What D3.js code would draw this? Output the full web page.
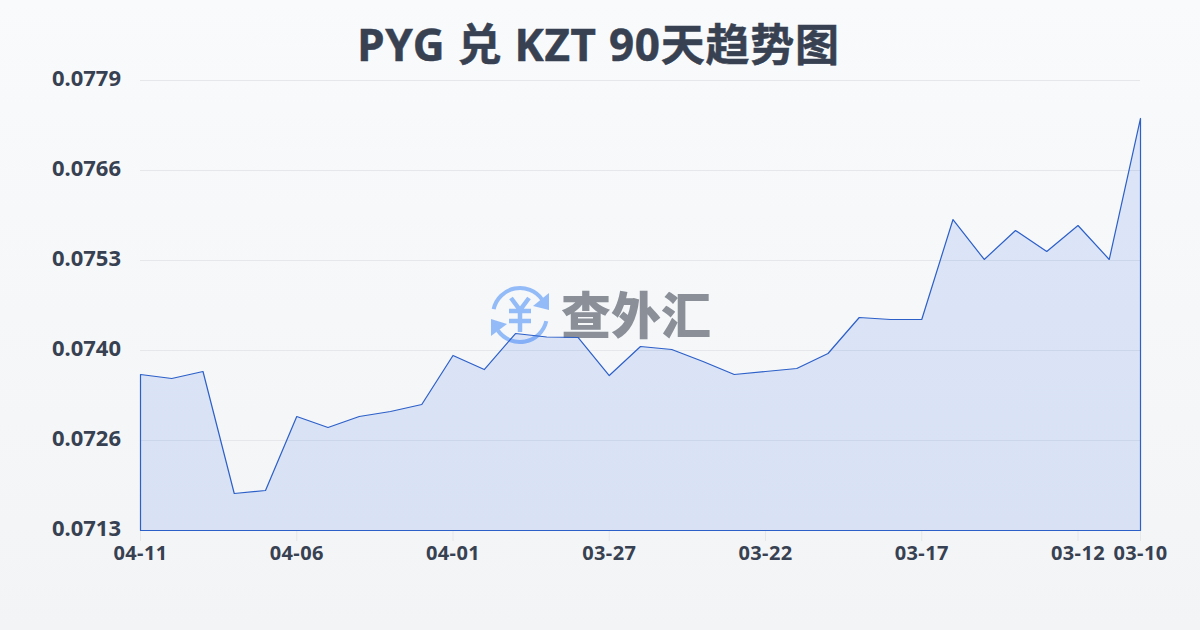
<!DOCTYPE html>
<html><head><meta charset="utf-8">
<script src="https://cdn.jsdelivr.net/npm/d3@7/dist/d3.min.js"></script>
<style>html,body{margin:0;padding:0;width:1200px;height:630px;overflow:hidden}svg{display:block}
text{font-family:"Noto Sans","Noto Sans CJK SC",sans-serif}</style></head><body>
<svg id="c" width="1200" height="630"></svg>
<script>
const titleText = "PYG 兑 KZT 90天趋势图";
const watermarkText = "查外汇";
const dates = ["04-11","04-10","04-09","04-08","04-07","04-06","04-05","04-04","04-03","04-02","04-01","03-31","03-30","03-29","03-28","03-27","03-26","03-25","03-24","03-23","03-22","03-21","03-20","03-19","03-18","03-17","03-16","03-15","03-14","03-13","03-12","03-11","03-10"];
const rates = [0.073588,0.073529,0.073632,0.071843,0.071887,0.072972,0.072811,0.072972,0.073045,0.073148,0.073867,0.073661,0.074189,0.074138,0.074131,0.073573,0.073999,0.073955,0.073779,0.073588,0.073632,0.073676,0.073896,0.074424,0.074395,0.074395,0.075861,0.075275,0.0757,0.075392,0.075773,0.075275,0.077343];
const xTickLabels = ["04-11","04-06","04-01","03-27","03-22","03-17","03-12","03-10"];
const yTickValues = [0.0713,0.0726,0.0740,0.0753,0.0766,0.0779];
const yDomain = [0.0713,0.0779];

const svg = d3.select("#c");
const defs = svg.append("defs");
const bg = defs.append("linearGradient").attr("id","bg").attr("x1",0).attr("y1",0).attr("x2",0).attr("y2",1);
bg.append("stop").attr("offset","0%").attr("stop-color","#f8fafc");
bg.append("stop").attr("offset","100%").attr("stop-color","#f3f4f6");
svg.append("rect").attr("width",1200).attr("height",630).attr("fill","url(#bg)");

const x = d3.scalePoint().domain(dates).range([140.5,1140.5]);
const y = d3.scaleLinear().domain(yDomain).range([530.5,80.5]);
const yPos = d3.scalePoint().domain(yTickValues).range([530,80]);

svg.append("g").selectAll("line").data(yTickValues.slice(1)).join("line")
  .attr("x1",140).attr("x2",1140).attr("y1",d=>yPos(d)+.5).attr("y2",d=>yPos(d)+.5)
  .attr("stroke","#e5e7eb").attr("stroke-width",1);

const wm = svg.append("g");
const arc = d3.arc();
const cx=520,cy=315, blue="#93bbf8";
wm.append("path").attr("transform",`translate(${cx},${cy})`)
  .attr("d",arc({innerRadius:25,outerRadius:29,startAngle:-1.35,endAngle:0.95})).attr("fill",blue);
wm.append("path").attr("transform",`translate(${cx},${cy})`)
  .attr("d",arc({innerRadius:25,outerRadius:29,startAngle:1.8,endAngle:4.1})).attr("fill",blue);
wm.append("path").attr("d",`M${cx+29},${cy-22}L${cx+29},${cy-5}L${cx+13},${cy-9}Z`).attr("fill",blue);
wm.append("path").attr("d",`M${cx-29},${cy+21}L${cx-29},${cy+4}L${cx-13},${cy+9}Z`).attr("fill",blue);
wm.append("path").attr("d",`M${cx-9},${cy-17}L${cx},${cy-5}L${cx+9},${cy-17}M${cx-11},${cy-4}H${cx+11}M${cx-11},${cy+6}H${cx+11}M${cx},${cy-5}V${cy+17}`)
  .attr("fill","none").attr("stroke",blue).attr("stroke-width",4.5);
wm.append("text").attr("x",636).attr("y",334).attr("text-anchor","middle")
  .attr("font-size",50).attr("font-weight",900).attr("fill","#8a8f98").text(watermarkText);

const area = d3.area().x((d,i)=>x(dates[i])).y0(530.5).y1(d=>y(d));
svg.append("path").datum(rates).attr("d",area).attr("fill","#2563eb").attr("fill-opacity",.13)
  .attr("stroke","#2c5fc8").attr("stroke-width",1.2).attr("stroke-linejoin","round");

const gx = svg.append("g").selectAll("g").data(xTickLabels).join("g");
gx.append("line").attr("x1",d=>x(d)).attr("x2",d=>x(d)).attr("y1",531).attr("y2",541).attr("stroke","#e5e7eb");
gx.append("text").attr("x",d=>x(d)).attr("y",560).attr("text-anchor","middle")
  .attr("font-size",20).attr("font-weight",700).attr("letter-spacing",.4).attr("fill","#374151").text(d=>d);

svg.append("g").selectAll("text").data(yTickValues).join("text")
  .attr("x",121).attr("y",d=>yPos(d)+6).attr("text-anchor","end")
  .attr("font-size",22).attr("font-weight",700).attr("fill","#374151").text(d=>d.toFixed(4));

svg.append("text").attr("x",598.5).attr("y",61).attr("text-anchor","middle")
  .attr("font-size",44).attr("font-weight",700).attr("letter-spacing",.75)
  .attr("stroke","#374151").attr("stroke-width",.5).attr("fill","#374151").text(titleText);
</script></body></html>
